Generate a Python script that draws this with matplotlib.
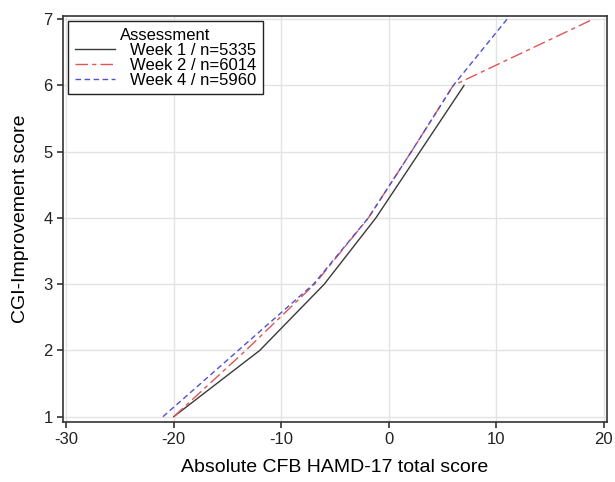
import matplotlib
matplotlib.use("Agg")
import matplotlib.pyplot as plt

plt.rcParams["font.family"] = ["Liberation Sans", "DejaVu Sans"]
plt.rcParams["axes.unicode_minus"] = False

# Data
week1_x = [-20, -12, -6, -1.2, 2.9, 7]
week1_y = [1, 2, 3, 4, 5, 6]
week2_x = [-20, -13.3, -6.9, -1.9, 2.1, 6, 19]
week2_y = [1, 2, 3, 4, 5, 6, 7]
week4_x = [-21, -14, -7, -1.9, 2.1, 6, 11]
week4_y = [1, 2, 3, 4, 5, 6, 7]
labels = ["Week 1 / n=5335", "Week 2 / n=6014", "Week 4 / n=5960"]

fig = plt.figure(figsize=(6.15, 4.82), dpi=100)
ax = fig.add_axes([0.1024, 0.1245, 0.8846, 0.8425])

ax.plot(week1_x, week1_y, color="#3a3a3a", lw=1.0, ls="-", label=labels[0])
ax.plot(week2_x, week2_y, color="#e05555", lw=1.0, ls=(0, (9, 3, 3, 3)), label=labels[1])
ax.plot(week4_x, week4_y, color="#5050d0", lw=1.0, ls=(0, (4, 2.5)), label=labels[2])

ax.set_xlim(-30.3, 20.3)
ax.set_ylim(0.92, 7.05)
ax.set_xticks([-30, -20, -10, 0, 10, 20])
ax.set_yticks([1, 2, 3, 4, 5, 6, 7])
ax.grid(True, color="#e3e3e3", lw=1.0)
ax.set_axisbelow(True)

for s in ax.spines.values():
    s.set_color("#333333")
    s.set_linewidth(1.2)
ax.tick_params(direction="out", length=4, width=1.2, color="#333333",
               labelsize=12, labelcolor="#222222")

ax.set_xlabel("Absolute CFB HAMD-17 total score", fontsize=14, labelpad=8)
ax.set_ylabel("CGI-Improvement score", fontsize=14, labelpad=10)

leg = ax.legend(title="Assessment", loc="upper left", fontsize=12, title_fontsize=12,
                fancybox=False, framealpha=1, edgecolor="#222222",
                borderaxespad=0.3, labelspacing=0.0, handlelength=2.4,
                handletextpad=0.9, borderpad=0.4)
leg.get_frame().set_linewidth(1.0)
leg._legend_box.align = "center"

fig.savefig("out.png", dpi=100)
